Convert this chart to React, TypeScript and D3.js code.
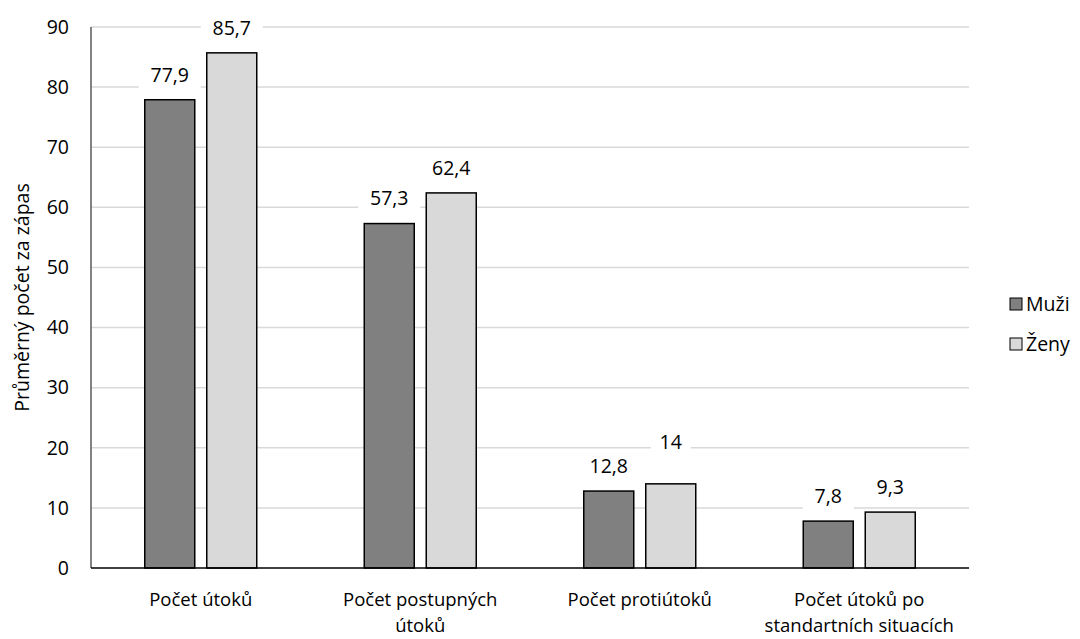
import React from "react";
import * as d3 from "d3";

const categories = ["Počet útoků", "Počet postupných\nútoků", "Počet protiútoků", "Počet útoků po\nstandartních situacích"];
const seriesNames = ["Muži", "Ženy"];
const muzi = [77.9, 57.3, 12.8, 7.8];
const zeny = [85.7, 62.4, 14, 9.3];
const labelsMuzi = ["77,9", "57,3", "12,8", "7,8"];
const labelsZeny = ["85,7", "62,4", "14", "9,3"];
const yTicks = [0, 10, 20, 30, 40, 50, 60, 70, 80, 90];
const colors = ["#808080", "#d9d9d9"];

const W = 1080, H = 639;
const left = 91, right = 969, top = 27, bottom = 568;
const FONT = "'Open Sans', sans-serif";

export default function App() {
  const x = d3.scaleBand<string>().domain(categories).range([left, right]).paddingInner(0).paddingOuter(0);
  const y = d3.scaleLinear().domain([0, 90]).range([bottom, top]);
  const barW = 50, gap = 12;
  const series = [muzi, zeny];
  const labels = [labelsMuzi, labelsZeny];
  const fs = 19.5;
  const catFs = 18.5;
  // extra lift for a label that the original placed higher to avoid collision
  const extraLift = (k: number, i: number) => (k === 1 && i === 2 ? 17 : 0);
  return (
    <svg width={W} height={H} style={{ position: "absolute", left: 0, top: 0, background: "#fff" }}>
      <rect x={0} y={0} width={W} height={H} fill="#fff" />
      {yTicks.map((t) => (
        <g key={t}>
          {t > 0 && <line x1={left} x2={right} y1={y(t)} y2={y(t)} stroke="#d9d9d9" strokeWidth={1.5} />}
          <text x={69} y={y(t)} dy="0.35em" textAnchor="end" fontFamily={FONT} fontSize={fs} fill="#000">{t}</text>
        </g>
      ))}
      <line x1={left} x2={left} y1={top} y2={bottom} stroke="#595959" strokeWidth={1.5} />
      {categories.map((c, i) => {
        const cx = (x(c) as number) + x.bandwidth() / 2;
        return series.map((s, k) => {
          const bx = k === 0 ? cx - gap / 2 - barW : cx + gap / 2;
          const v = s[i];
          const lbl = labels[k][i];
          const tw = lbl.length * 11 + 18;
          const ly = y(v) - 25 - extraLift(k, i);
          return (
            <g key={c + k}>
              <rect x={bx} y={y(v)} width={barW} height={bottom - y(v)} fill={colors[k]} stroke="#000" strokeWidth={1.5} />
              <rect x={bx + barW / 2 - tw / 2} y={ly - 14} width={tw} height={28} fill="#fff" />
              <text x={bx + barW / 2} y={ly} dy="0.35em" textAnchor="middle" fontFamily={FONT} fontSize={fs} fill="#000">{lbl}</text>
            </g>
          );
        });
      })}
      <line x1={left} x2={right} y1={bottom} y2={bottom} stroke="#000" strokeWidth={1.5} />
      {categories.map((c) => {
        const cx = (x(c) as number) + x.bandwidth() / 2;
        return c.split("\n").map((line, j) => (
          <text key={c + j} x={cx} y={600 + j * 25.5} dy="0.35em" textAnchor="middle" fontFamily={FONT} fontSize={catFs} fill="#000">{line}</text>
        ));
      })}
      <text transform={`translate(22,${(top + bottom) / 2}) rotate(-90)`} dy="0.35em" textAnchor="middle" fontFamily={FONT} fontSize={fs} fill="#000">Průměrný počet za zápas</text>
      {seriesNames.map((n, k) => (
        <g key={n}>
          <rect x={1010} y={298 + k * 40} width={12} height={12} fill={colors[k]} stroke="#000" strokeWidth={1} />
          <text x={1026} y={304 + k * 40} dy="0.35em" fontFamily={FONT} fontSize={fs} fill="#000">{n}</text>
        </g>
      ))}
    </svg>
  );
}
